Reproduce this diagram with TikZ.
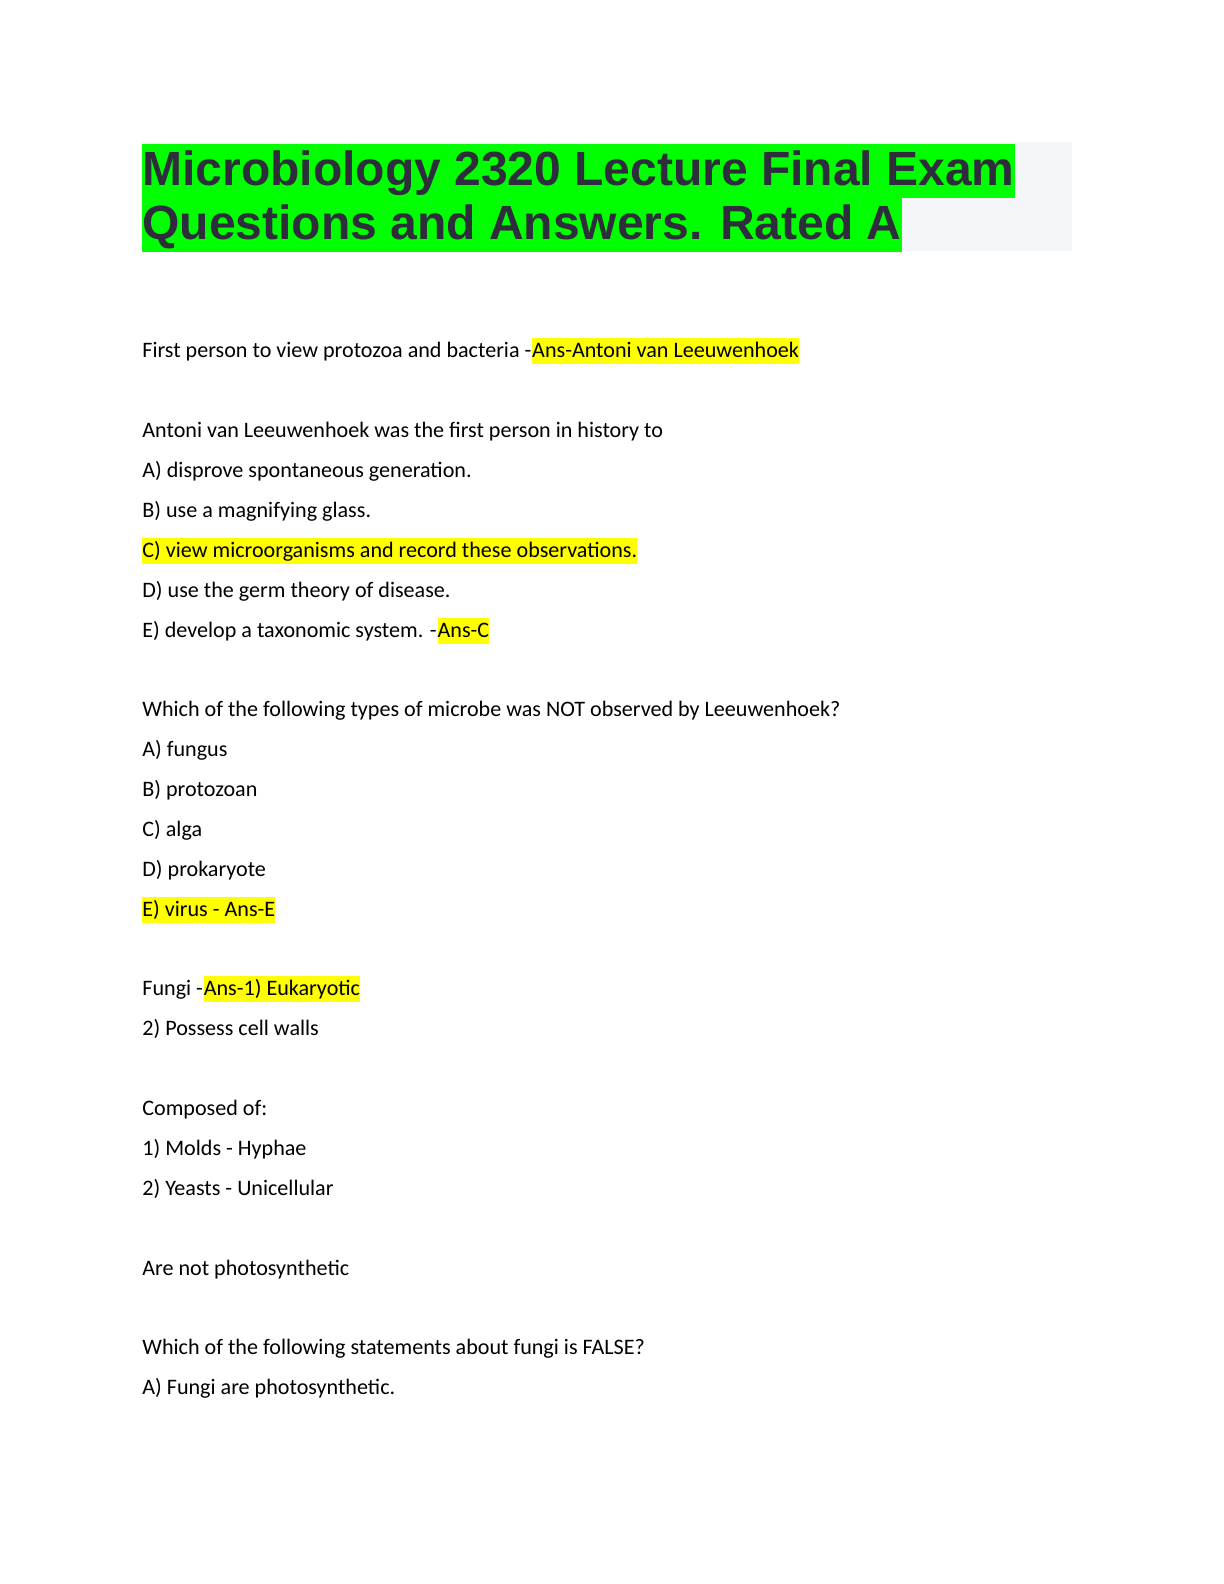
\documentclass[tikz,border=0pt]{standalone}
\usepackage{fontspec}
\setmainfont{Carlito}
\newfontfamily\titlefont{Liberation Sans}
\definecolor{hlgreen}{HTML}{00FF00}
\definecolor{hlyellow}{HTML}{FFFF00}
\definecolor{titlegray}{HTML}{2E2D3B}
\definecolor{boxgray}{HTML}{F5F6FA}
\begin{document}
\begin{tikzpicture}[x=1pt,y=1pt,
  txt/.style={inner sep=0pt,anchor=base west,font=\fontsize{11.05}{13}\selectfont},
  hl/.style={txt,fill=hlyellow,text height=9.3pt,text depth=3.4pt},
  ttl/.style={inner sep=0pt,anchor=base west,fill=hlgreen,text=titlegray,
    font=\titlefont\bfseries\fontsize{24}{27}\selectfont,text height=20.5pt,text depth=6.7pt}]
\useasboundingbox (0,0) rectangle (612,-792);
\fill[boxgray] (71,-71) rectangle (536,-125.5);
\node[ttl] (t1) at (71,-92.5) {Microbiology 2320 Lecture Final Exam};
\node[ttl] (t2) at (71,-119.5) {Questions and Answers. Rated A};
\node[txt] (a1) at (71,-178.5) {First person to view protozoa and bacteria -\ };
\node[hl] (a1h) at (a1.base east) {Ans-Antoni van Leeuwenhoek};
\node[txt] (b0) at (71,-218.5) {Antoni van Leeuwenhoek was the first person in history to};
\node[txt] (b1) at (71,-238.5) {A) disprove spontaneous generation.};
\node[txt] (b2) at (71,-258.5) {B) use a magnifying glass.};
\node[hl] (b3) at (71,-278.5) {C) view microorganisms and record these observations.};
\node[txt] (b4) at (71,-298.5) {D) use the germ theory of disease.};
\node[txt] (b5) at (71,-318.5) {E) develop a taxonomic system. -\ };
\node[hl] (b5h) at (b5.base east) {Ans-C};
\node[txt] (c0) at (71,-358) {Which of the following types of microbe was NOT observed by Leeuwenhoek?};
\node[txt] (c1) at (71,-378) {A) fungus};
\node[txt] (c2) at (71,-398) {B) protozoan};
\node[txt] (c3) at (71,-418) {C) alga};
\node[txt] (c4) at (71,-438) {D) prokaryote};
\node[hl] (c5) at (71,-458) {E) virus - Ans-E};
\node[txt] (d1) at (71,-497.5) {Fungi -\ };
\node[hl] (d1h) at (d1.base east) {Ans-1) Eukaryotic};
\node[txt] (d2) at (71,-517.5) {2) Possess cell walls};
\node[txt] (e0) at (71,-557.5) {Composed of:};
\node[txt] (e1) at (71,-577.5) {1) Molds - Hyphae};
\node[txt] (e2) at (71,-597.5) {2) Yeasts - Unicellular};
\node[txt] (f0) at (71,-637.5) {Are not photosynthetic};
\node[txt] (g0) at (71,-677) {Which of the following statements about fungi is FALSE?};
\node[txt] (g1) at (71,-697) {A) Fungi are photosynthetic.};
\end{tikzpicture}
\end{document}
